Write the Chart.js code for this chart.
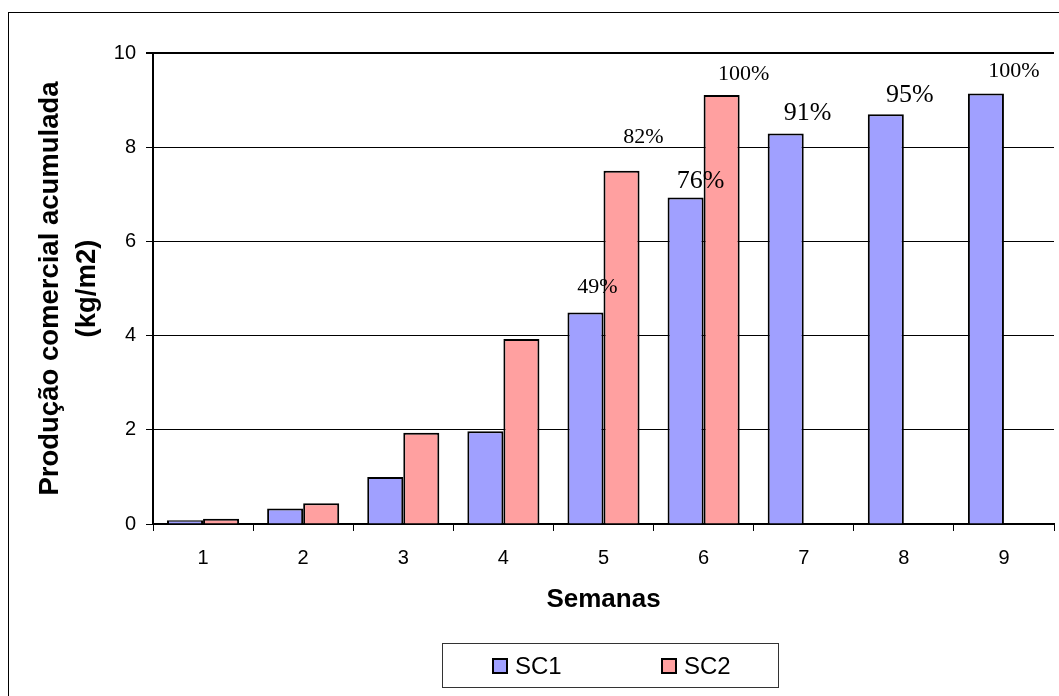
<!DOCTYPE html>
<html>
<head>
<meta charset="utf-8">
<script src="https://cdn.jsdelivr.net/npm/chart.js@4/dist/chart.umd.min.js"></script>
<style>
  html, body { margin: 0; padding: 0; background: #fff; }
  canvas { display: block; }
</style>
</head>
<body>
<canvas id="grafico" width="1059" height="696"></canvas>
<script>
// Semanas de colheita
const semanas = ['1', '2', '3', '4', '5', '6', '7', '8', '9'];
// Produção comercial acumulada (kg/m2) por sistema de cultivo
const sc1 = [0.08, 0.33, 1.00, 1.97, 4.49, 6.93, 8.29, 8.70, 9.14];
const sc2 = [0.11, 0.44, 1.94, 3.93, 7.50, 9.11, null, null, null];
// Marcas do eixo Y
const marcasY = [0, 2, 4, 6, 8, 10];
// Percentual da produção total mostrado a partir desta semana
const semanaInicioRotulo = 5;

const fonteSans = '"Liberation Sans", Arial, sans-serif';
const fonteSerif = '"Liberation Serif", "Times New Roman", serif';

// Ajuste fino de posição/tamanho de cada rótulo percentual (dx, dy, tamanho)
const ajusteRotulos = [
  { 4: [12, -25, 22], 5: [15, -16, 26], 6: [22, -20, 26], 7: [24, -19, 26], 8: [28, -22, 22] },
  { 4: [22, -34, 22], 5: [22, -21, 22] }
];

const rotulosPercentuais = {
  id: 'rotulosPercentuais',
  afterDatasetsDraw(chart) {
    const ctx = chart.ctx;
    ctx.save();
    ctx.fillStyle = '#000';
    ctx.textAlign = 'center';
    ctx.textBaseline = 'middle';
    chart.data.datasets.forEach((ds, di) => {
      const valores = ds.data.filter(v => v !== null);
      const total = Math.max(...valores);
      const meta = chart.getDatasetMeta(di);
      ds.data.forEach((v, i) => {
        if (v === null || i < semanaInicioRotulo - 1) return;
        const barra = meta.data[i];
        const aj = (ajusteRotulos[di] && ajusteRotulos[di][i]) || [20, -20, 22];
        ctx.font = aj[2] + 'px ' + fonteSerif;
        ctx.fillText(Math.round(v / total * 100) + '%', barra.x + aj[0], barra.y + aj[1]);
      });
    });
    ctx.restore();
  }
};

const moldura = {
  id: 'moldura',
  afterDraw(chart) {
    const ctx = chart.ctx;
    const area = chart.chartArea;
    ctx.save();
    // Borda externa
    ctx.strokeStyle = '#000';
    ctx.lineWidth = 1;
    ctx.strokeRect(8.5, 12.5, 2000, 2000);

    // Título do eixo Y (duas linhas)
    ctx.fillStyle = '#000';
    ctx.font = 'bold 27.5px ' + fonteSans;
    ctx.textAlign = 'center';
    ctx.textBaseline = 'middle';
    const cy = (area.top + area.bottom) / 2;
    ctx.save();
    ctx.translate(50, cy);
    ctx.rotate(-Math.PI / 2);
    ctx.fillText('Produção comercial acumulada', 0, 0);
    ctx.restore();
    ctx.save();
    ctx.translate(87, cy);
    ctx.rotate(-Math.PI / 2);
    ctx.fillText('(kg/m2)', 0, 0);
    ctx.restore();

    // Título do eixo X
    ctx.font = 'bold 26px ' + fonteSans;
    ctx.fillText('Semanas', (area.left + area.right) / 2, 600);

    // Legenda
    ctx.strokeStyle = '#333';
    ctx.lineWidth = 1;
    ctx.strokeRect(442.5, 643.5, 336, 44);
    const itens = chart.data.datasets.map(ds => ({ rotulo: ds.label, cor: ds.backgroundColor }));
    const posX = [493, 662];
    ctx.font = '24px ' + fonteSans;
    ctx.textAlign = 'left';
    itens.forEach((it, k) => {
      const x = posX[k];
      ctx.fillStyle = it.cor;
      ctx.fillRect(x, 659, 14, 14);
      ctx.strokeStyle = '#000';
      ctx.lineWidth = 2;
      ctx.strokeRect(x, 659, 14, 14);
      ctx.fillStyle = '#000';
      ctx.fillText(it.rotulo, x + 22, 667);
    });
    ctx.restore();
  }
};

new Chart(document.getElementById('grafico'), {
  type: 'bar',
  data: {
    labels: semanas,
    datasets: [
      { label: 'SC1', data: sc1, backgroundColor: '#A0A0FF', borderColor: '#000', borderWidth: 2 },
      { label: 'SC2', data: sc2, backgroundColor: '#FFA0A0', borderColor: '#000', borderWidth: 2 }
    ]
  },
  options: {
    responsive: false,
    devicePixelRatio: 1,
    animation: false,
    layout: { padding: { left: 8, top: 53, right: 5, bottom: 0 } },
    datasets: { bar: { categoryPercentage: 0.72, barPercentage: 1.0 } },
    plugins: { legend: { display: false }, tooltip: { enabled: false } },
    scales: {
      x: {
        afterFit(s) { s.height = 172; },
        grid: { display: true, drawOnChartArea: false, drawTicks: true, tickLength: 7, color: '#000', lineWidth: 1, offset: true },
        border: { display: true, color: '#000', width: 2 },
        ticks: { color: '#000', font: { family: fonteSans, size: 20 }, padding: 15 }
      },
      y: {
        min: 0,
        max: 10,
        afterFit(s) { s.width = 145; },
        afterBuildTicks(s) { s.ticks = marcasY.map(v => ({ value: v })); },
        grid: {
          color: '#000',
          lineWidth: c => (c.tick && c.tick.value === 10 ? 2 : 1),
          drawTicks: true,
          tickLength: 7
        },
        border: { display: true, color: '#000', width: 2 },
        ticks: { color: '#000', font: { family: fonteSans, size: 20 }, padding: 10 }
      }
    }
  },
  plugins: [rotulosPercentuais, moldura]
});
</script>
</body>
</html>
